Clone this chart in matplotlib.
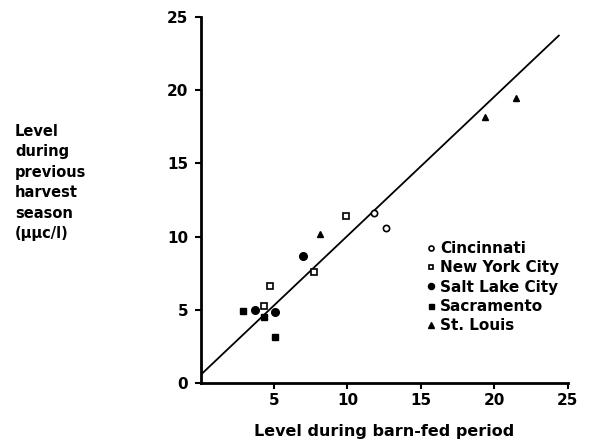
import matplotlib
matplotlib.use("Agg")
import numpy as np
import matplotlib.pyplot as plt

# Level during barn-fed period (x) vs level during previous harvest season (y)
cincinnati_x = [11.8, 12.6]
cincinnati_y = [11.6, 10.6]
new_york_x = [9.9, 7.7, 4.7, 4.3]
new_york_y = [11.4, 7.55, 6.6, 5.25]
salt_lake_x = [7.0, 3.7, 5.1]
salt_lake_y = [8.7, 5.0, 4.85]
sacramento_x = [2.9, 4.3, 5.1]
sacramento_y = [4.9, 4.5, 3.15]
st_louis_x = [8.1, 19.4, 21.5]
st_louis_y = [10.15, 18.2, 19.5]

# fitted line
fit_intercept = 0.55
fit_slope = 0.95
fit_range = [0, 24.4]

ticks = [0, 5, 10, 15, 20, 25]

plt.rcParams["font.family"] = "DejaVu Sans"
plt.rcParams["font.weight"] = "bold"

fig = plt.figure(figsize=(5.99, 4.47), dpi=100)
ax = fig.add_axes([0.3349, 0.1432, 0.6127, 0.8188])

line_x = np.array(fit_range)
ax.plot(line_x, fit_intercept + fit_slope * line_x, color="black", lw=1.3)

ax.plot(cincinnati_x, cincinnati_y, "o", ms=4.5, mfc="white", mec="black", mew=1.2,
        label="Cincinnati")
ax.plot(new_york_x, new_york_y, "s", ms=4, mfc="white", mec="black", mew=1.2,
        label="New York City")
ax.plot(salt_lake_x, salt_lake_y, "o", ms=5.5, color="black", label="Salt Lake City")
ax.plot(sacramento_x, sacramento_y, "s", ms=4.5, color="black", label="Sacramento")
ax.plot(st_louis_x, st_louis_y, "^", ms=5, color="black", label="St. Louis")

ax.set_xlim(0, 25)
ax.set_ylim(0, 25)
ax.set_xticks(ticks[1:])
ax.set_yticks(ticks)
ax.tick_params(direction="out", length=4, width=1.5, labelsize=11)
ax.tick_params(axis="x", pad=3)
ax.tick_params(axis="y", pad=5)
for lab in ax.get_xticklabels() + ax.get_yticklabels():
    lab.set_fontweight("heavy")

for side in ["top", "right"]:
    ax.spines[side].set_visible(False)
for side in ["left", "bottom"]:
    ax.spines[side].set_linewidth(2)

ax.set_xlabel("Level during barn-fed period", fontsize=11.5, fontweight="bold", labelpad=12)
fig.text(0.025, 1 - 124 / 447,
         "Level\nduring\nprevious\nharvest\nseason\n(\u03bc\u03bcc/l)",
         ha="left", va="top", fontsize=10.5, fontweight="bold", linespacing=1.45)

leg = ax.legend(loc="upper left", bbox_to_anchor=(422 / 599, 1 - 235 / 447),
                bbox_transform=fig.transFigure, frameon=False, handlelength=0.4,
                handletextpad=0.4, labelspacing=0.28, markerscale=0.8,
                prop={"size": 11, "weight": "bold"}, borderaxespad=0)

fig.savefig("out.png", dpi=100)
